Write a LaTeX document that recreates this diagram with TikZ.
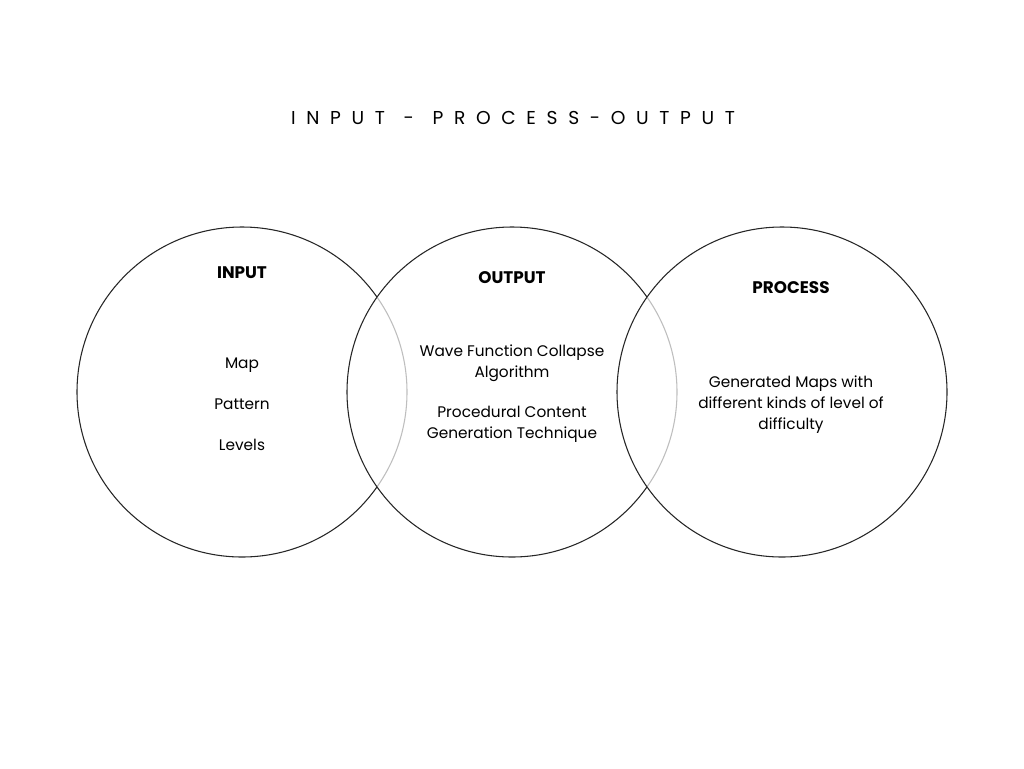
\documentclass[tikz,border=0pt]{standalone}
\usepackage{fontspec}
\setmainfont{Poppins}
\newfontfamily\titlefont[LetterSpace=57]{Poppins}
\usepackage{tikz}
\usetikzlibrary{positioning}
\tikzset{
  ring/.style={circle,draw=black!85,line width=0.8pt,fill=white,fill opacity=0.7,minimum size=247.5pt,inner sep=0pt},
  head/.style={font=\fontsize{12.6}{15.75}\selectfont\bfseries,text=black},
  body/.style={font=\fontsize{11.5}{15.75}\selectfont,text=black,align=center}
}
\begin{document}
\begin{tikzpicture}[x=0.75pt,y=-0.75pt]
        \useasboundingbox (0,0) rectangle (1024,768);
        \node [font=\titlefont\fontsize{14}{16}\selectfont,text=black] (title) at (513,118) {INPUT \,-\, PROCESS-OUTPUT};
        \node [ring] (input) at (242,392) {};
        \node [ring] (output) at (512,392) {};
        \node [ring] (process) at (782,392) {};
        \node [head] (inhead) at (242,273) {INPUT};
        \node [head] (outhead) at (512,278) {OUTPUT};
        \node [head] (prochead) at (791,288) {PROCESS};
        \node [body] (inbody) at (242,404) {Map\\[15pt]Pattern\\[15pt]Levels};
        \node [body] (outbody) at (512,394) {Wave Function Collapse\\Algorithm\\[14.25pt]Procedural Content\\Generation Technique};
        \node [body] (procbody) at (791,404.5) {Generated Maps with\\different kinds of level of\\difficulty};
\end{tikzpicture}
\end{document}
